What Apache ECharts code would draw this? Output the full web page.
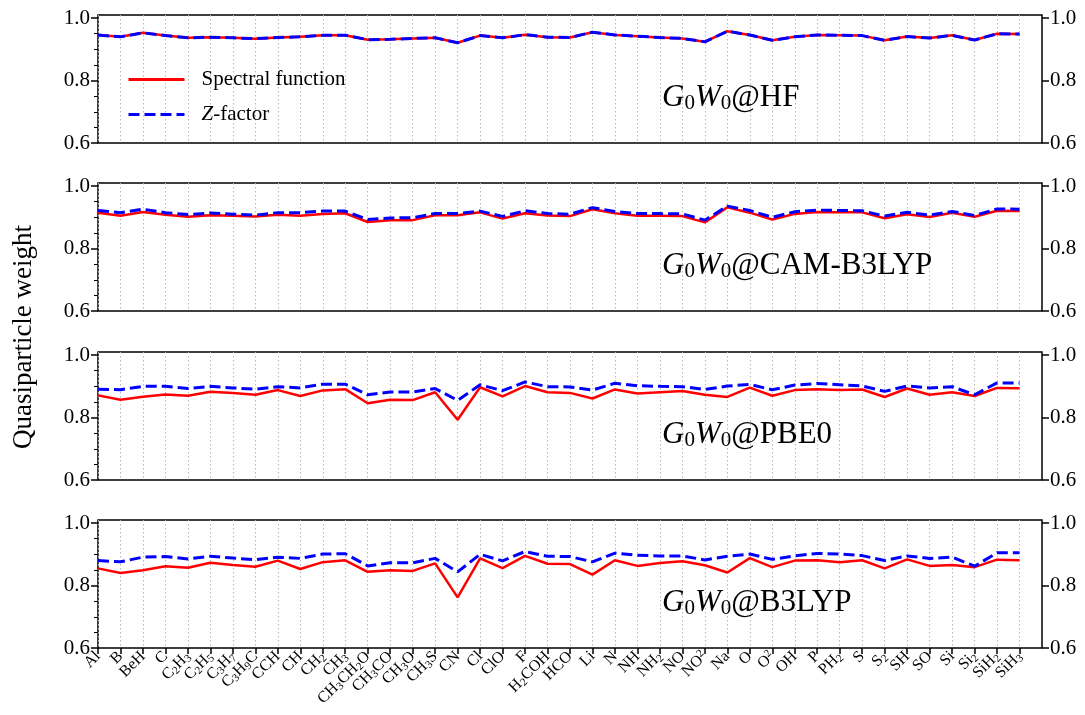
<!DOCTYPE html>
<html>
<head>
<meta charset="utf-8">
<script src="https://cdn.jsdelivr.net/npm/echarts@6/dist/echarts.min.js"></script>
<style>html,body{margin:0;padding:0;background:#fff}#c{width:1085px;height:715px}</style>
</head>
<body>
<div id="c"></div>
<script>
// ---- data ----
var categories = ['Al','B','BeH','C','C_2H_3','C_2H_5','C_3H_7','C_3H_9C','CCH','CH','CH_2','CH_3','CH_3CH_2O','CH_3CO','CH_3O','CH_3S','CN','Cl','ClO','F','H_2COH','HCO','Li','N','NH','NH_2','NO','NO^2','Na','O','O^2','OH','P','PH_2','S','S_2','SH','SO','Si','Si_2','SiH_2','SiH_3'];

var hfSpectral = [0.946,0.940,0.953,0.944,0.937,0.939,0.937,0.934,0.938,0.940,0.945,0.945,0.931,0.932,0.935,0.937,0.921,0.944,0.937,0.947,0.939,0.938,0.955,0.946,0.942,0.938,0.935,0.924,0.958,0.946,0.929,0.940,0.946,0.945,0.944,0.929,0.941,0.936,0.945,0.930,0.950,0.949];
var hfZ        = [0.946,0.940,0.953,0.944,0.937,0.939,0.937,0.934,0.938,0.940,0.945,0.945,0.931,0.932,0.935,0.937,0.921,0.944,0.937,0.947,0.939,0.938,0.955,0.946,0.942,0.938,0.935,0.924,0.958,0.946,0.929,0.940,0.946,0.945,0.944,0.929,0.941,0.936,0.945,0.930,0.950,0.949];

var camSpectral = [0.915,0.905,0.917,0.908,0.902,0.907,0.905,0.903,0.908,0.905,0.911,0.913,0.885,0.891,0.891,0.907,0.907,0.916,0.896,0.913,0.906,0.904,0.926,0.913,0.905,0.905,0.904,0.884,0.932,0.915,0.893,0.911,0.917,0.916,0.916,0.897,0.910,0.901,0.915,0.902,0.921,0.920];
var camZ        = [0.922,0.915,0.926,0.915,0.909,0.914,0.910,0.907,0.915,0.915,0.920,0.920,0.893,0.898,0.899,0.912,0.912,0.920,0.903,0.921,0.912,0.910,0.931,0.919,0.912,0.912,0.911,0.891,0.936,0.922,0.900,0.918,0.923,0.922,0.921,0.904,0.916,0.907,0.919,0.906,0.927,0.926];

var pbe0Spectral = [0.871,0.857,0.867,0.874,0.870,0.883,0.879,0.873,0.888,0.869,0.887,0.891,0.846,0.857,0.856,0.881,0.793,0.897,0.868,0.901,0.881,0.879,0.861,0.890,0.877,0.881,0.885,0.873,0.866,0.896,0.870,0.888,0.891,0.888,0.890,0.866,0.893,0.873,0.881,0.869,0.895,0.894];
var pbe0Z        = [0.891,0.889,0.900,0.900,0.893,0.900,0.895,0.891,0.899,0.895,0.907,0.907,0.873,0.882,0.882,0.893,0.855,0.905,0.886,0.914,0.899,0.898,0.888,0.910,0.902,0.900,0.899,0.890,0.901,0.906,0.889,0.904,0.909,0.905,0.901,0.884,0.901,0.895,0.899,0.873,0.911,0.911];

var b3lypSpectral = [0.855,0.840,0.849,0.862,0.857,0.873,0.866,0.860,0.880,0.853,0.875,0.881,0.844,0.849,0.847,0.871,0.762,0.887,0.856,0.895,0.870,0.869,0.835,0.881,0.863,0.872,0.878,0.865,0.842,0.888,0.859,0.880,0.881,0.875,0.881,0.855,0.884,0.863,0.866,0.859,0.883,0.881];
var b3lypZ        = [0.880,0.876,0.891,0.893,0.885,0.894,0.888,0.883,0.891,0.887,0.901,0.902,0.863,0.873,0.873,0.887,0.844,0.900,0.879,0.909,0.894,0.893,0.876,0.904,0.897,0.895,0.895,0.882,0.894,0.901,0.884,0.895,0.903,0.901,0.896,0.880,0.895,0.887,0.891,0.862,0.905,0.905];

var panelNames = ['HF','CAM-B3LYP','PBE0','B3LYP'];
var yMajorTicks = [0.6, 0.8, 1.0];
var yMinorTicks = [0.65, 0.7, 0.75, 0.85, 0.9, 0.95];
var seriesNames = ['Spectral function', 'Z-factor'];

// ---- chart ----
var FONT = 'Liberation Serif';
var panels = [[hfSpectral, hfZ],[camSpectral, camZ],[pbe0Spectral, pbe0Z],[b3lypSpectral, b3lypZ]];
var gridTops = [15, 183, 352, 520];
var gridH = 128, gridLeft = 98, gridRight = 43;
var N = categories.length;
// axis slots: one per category plus an empty slot that reaches the right frame
var axisSlots = categories.concat(['']);

function toRich(s) {
  var out = '', buf = '';
  for (var i = 0; i < s.length; i++) {
    var ch = s[i];
    if (ch === '_' || ch === '^') {
      if (buf) { out += '{n|' + buf + '}'; buf = ''; }
      out += '{' + (ch === '_' ? 's' : 'p') + '|' + s[i + 1] + '}';
      i++;
    } else buf += ch;
  }
  if (buf) out += '{n|' + buf + '}';
  return out;
}
function realSlot(i) { return i < N; }

var grids = [], xAxes = [], yAxes = [], series = [], titles = [];
gridTops.forEach(function (top, g) {
  grids.push({left: gridLeft, right: gridRight, top: top, height: gridH, show: true,
    borderColor: '#000', borderWidth: 1.5, containLabel: false});
  var bottom = g === gridTops.length - 1;
  xAxes.push({
    type: 'category', gridIndex: g, data: axisSlots, boundaryGap: false,
    axisLine: {show: false},
    axisTick: {show: bottom, interval: realSlot, length: 6, lineStyle: {color: '#000', width: 1.5}},
    axisLabel: {show: bottom, interval: 0, rotate: 45, margin: 6,
      fontFamily: FONT, fontSize: 16, color: '#000',
      formatter: function (v) { return v ? toRich(v) : ''; },
      rich: {
        n: {fontFamily: FONT, fontSize: 16, color: '#000', lineHeight: 18},
        s: {fontFamily: FONT, fontSize: 11, color: '#000', lineHeight: 10, verticalAlign: 'bottom'},
        p: {fontFamily: FONT, fontSize: 11, color: '#000', lineHeight: 10, verticalAlign: 'top'}
      }},
    splitLine: {show: true, interval: realSlot, lineStyle: {color: '#b8b8b8', type: [1.5, 2.5], width: 1}}
  });
  var common = {type: 'value', gridIndex: g, min: 0.6, max: 1.01, splitLine: {show: false}, axisLine: {show: false}};
  yAxes.push(Object.assign({}, common, {
    position: 'left',
    axisTick: {show: true, customValues: yMajorTicks, length: 7, lineStyle: {color: '#000', width: 1.5}},
    axisLabel: {show: true, customValues: yMajorTicks, margin: 8, fontFamily: FONT, fontSize: 21, color: '#000',
      formatter: function (v) { return v.toFixed(1); }}
  }));
  yAxes.push(Object.assign({}, common, {
    position: 'left',
    axisTick: {show: true, customValues: yMinorTicks, length: 4, lineStyle: {color: '#000', width: 1}},
    axisLabel: {show: false}
  }));
  yAxes.push(Object.assign({}, common, {
    position: 'right',
    axisTick: {show: true, customValues: yMajorTicks, length: 7, lineStyle: {color: '#000', width: 1.5}},
    axisLabel: {show: true, customValues: yMajorTicks, margin: 8, fontFamily: FONT, fontSize: 21, color: '#000',
      formatter: function (v) { return v.toFixed(1); }}
  }));
  var arrs = panels[g];
  series.push({
    name: seriesNames[0], type: 'line', xAxisIndex: g, yAxisIndex: g * 3,
    data: arrs[0],
    symbol: 'none', showSymbol: false, z: 2,
    lineStyle: {color: '#ff0000', width: 2.5}, itemStyle: {color: '#ff0000'}
  });
  series.push({
    name: seriesNames[1], type: 'line', xAxisIndex: g, yAxisIndex: g * 3,
    data: arrs[1],
    symbol: 'none', showSymbol: false, z: 3,
    lineStyle: {color: '#0000ff', width: 3, type: [11, 5]}, itemStyle: {color: '#0000ff'}
  });
  titles.push({
    text: '{i|G}{s|0}{i|W}{s|0}{n|@' + panelNames[g] + '}',
    left: 657, top: top + 62,
    textStyle: {
      fontWeight: 'normal',
      rich: {
        i: {fontFamily: FONT, fontStyle: 'italic', fontWeight: 'normal', fontSize: 31, color: '#000', lineHeight: 32},
        n: {fontFamily: FONT, fontWeight: 'normal', fontSize: 31, color: '#000', lineHeight: 32},
        s: {fontFamily: FONT, fontWeight: 'normal', fontSize: 21, color: '#000', lineHeight: 12, verticalAlign: 'bottom'}
      }
    }
  });
});

var chart = echarts.init(document.getElementById('c'), null, {renderer: 'canvas'});
chart.setOption({
  animation: false,
  backgroundColor: '#fff',
  title: titles,
  grid: grids, xAxis: xAxes, yAxis: yAxes, series: series,
  legend: {
    data: seriesNames, orient: 'vertical', left: 122, top: 64,
    itemWidth: 56, itemHeight: 22, itemGap: 14,
    itemStyle: {color: 'rgba(0,0,0,0)', borderWidth: 0, opacity: 0},
    lineStyle: {width: 3},
    textStyle: {fontFamily: FONT, fontSize: 21, color: '#000', padding: [0, 0, 0, 12],
      rich: {i: {fontFamily: FONT, fontStyle: 'italic', fontSize: 21, color: '#000'},
             n: {fontFamily: FONT, fontSize: 21, color: '#000'}}},
    formatter: function (name) { return name === 'Z-factor' ? '{i|Z}{n|-factor}' : '{n|' + name + '}'; }
  },
  graphic: [{
    type: 'text', x: 24, y: 337, rotation: Math.PI / 2,
    style: {text: 'Quasiparticle weight', fontFamily: FONT, fontSize: 27, fill: '#000', align: 'center', verticalAlign: 'middle'}
  }]
});
</script>
</body>
</html>
